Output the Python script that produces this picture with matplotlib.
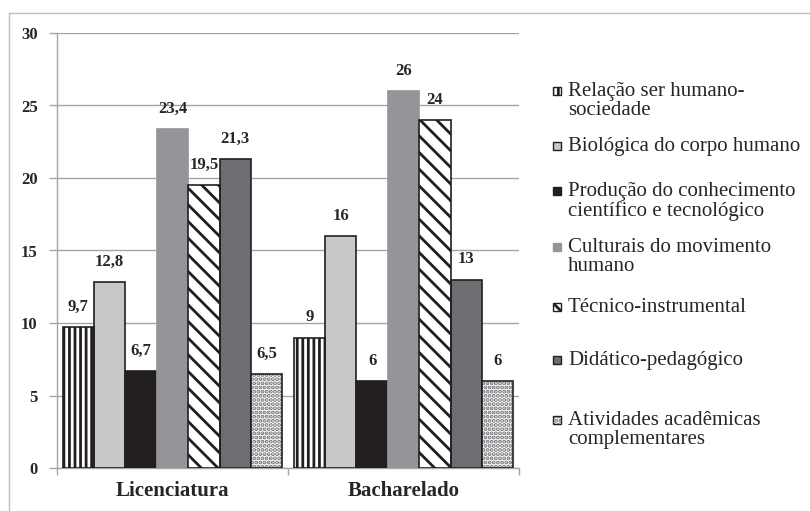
import matplotlib
matplotlib.use("Agg")
import matplotlib.pyplot as plt
from matplotlib.patches import Rectangle
from matplotlib.lines import Line2D
import numpy as np

categories = ["Licenciatura", "Bacharelado"]
series_names = [
    "Relação ser humano-\nsociedade",
    "Biológica do corpo humano",
    "Produção do conhecimento\ncientífico e tecnológico",
    "Culturais do movimento\nhumano",
    "Técnico-instrumental",
    "Didático-pedagógico",
    "Atividades acadêmicas\ncomplementares",
]
licenciatura = [9.7, 12.8, 6.7, 23.4, 19.5, 21.3, 6.5]
bacharelado = [9, 16, 6, 26, 24, 13, 6]
value_labels_lic = ["9,7", "12,8", "6,7", "23,4", "19,5", "21,3", "6,5"]
value_labels_bac = ["9", "16", "6", "26", "24", "13", "6"]
yticks = [0, 5, 10, 15, 20, 25, 30]

styles = [
    dict(facecolor="white", edgecolor="#231f20", hatch="|||", hatchcolor="#231f20"),
    dict(facecolor="#c7c8ca", edgecolor="#231f20", hatch=None, hatchcolor=None),
    dict(facecolor="#231f20", edgecolor="#231f20", hatch=None, hatchcolor=None),
    dict(facecolor="#939598", edgecolor="#939598", hatch=None, hatchcolor=None),
    dict(facecolor="white", edgecolor="#231f20", hatch="\\\\", hatchcolor="#231f20"),
    dict(facecolor="#6d6e71", edgecolor="#231f20", hatch=None, hatchcolor=None),
    dict(facecolor="white", edgecolor="#231f20", hatch="....", hatchcolor="#6d6e71"),
]

plt.rcParams["hatch.linewidth"] = 2.0
serif = ["Liberation Serif", "DejaVu Serif"]

W, H = 810, 511
fig = plt.figure(figsize=(W / 100, H / 100), dpi=100)
ax = fig.add_axes([57 / W, (H - 468) / H, 462 / W, 435 / H])

x = np.arange(len(categories))
bw = 0.136
n = len(series_names)
for i in range(n):
    vals = [licenciatura[i], bacharelado[i]]
    labs = [value_labels_lic[i], value_labels_bac[i]]
    off = (i - (n - 1) / 2) * bw
    st = styles[i]
    if st["hatch"] is not None:
        # hatch layer (hatch takes the edge colour), then outline layer
        ax.bar(x + off, vals, bw, facecolor=st["facecolor"], edgecolor=st["hatchcolor"],
               hatch=st["hatch"], linewidth=0, zorder=3)
        bars = ax.bar(x + off, vals, bw, facecolor="none", edgecolor=st["edgecolor"],
                      linewidth=1.2, zorder=3.5)
    else:
        bars = ax.bar(x + off, vals, bw, facecolor=st["facecolor"], edgecolor=st["edgecolor"],
                      linewidth=1.2, zorder=3)
    for b, lab in zip(bars, labs):
        ax.annotate(lab, (b.get_x() + b.get_width() / 2, b.get_height()),
                    xytext=(0, 14.5), textcoords="offset points", ha="center", va="center",
                    fontsize=12, fontweight="bold", family=serif, color="#262626", zorder=4)

ax.set_xlim(-0.5, 1.5)
ax.set_ylim(0, 30)
ax.set_yticks(yticks)
ax.set_yticklabels([str(t) for t in yticks], fontsize=12, fontweight="bold", family=serif, color="#262626")
ax.yaxis.grid(True, color="#a6a6a6", linewidth=1.0, zorder=0)
ax.set_axisbelow(True)
ax.set_xticks([-0.5, 0.5, 1.5])
ax.set_xticklabels([])
ax.set_xticks(x, minor=True)
ax.set_xticklabels(categories, minor=True, fontsize=15, fontweight="bold", family=serif, color="#262626")
ax.tick_params(axis="x", which="major", direction="out", length=5, color="#a6a6a6", width=1)
ax.tick_params(axis="x", which="minor", length=0, pad=9)
ax.tick_params(axis="y", direction="out", length=6, color="#a6a6a6", width=1, pad=8)
for s in ["top", "right"]:
    ax.spines[s].set_visible(False)
for s in ["left", "bottom"]:
    ax.spines[s].set_color("#a6a6a6")
    ax.spines[s].set_linewidth(1.0)

# figure frame (left and top edges visible)
fig.add_artist(Line2D([9 / W, 9 / W], [0, (H - 13) / H], transform=fig.transFigure, color="#bfbfbf", lw=1))
fig.add_artist(Line2D([9 / W, 1], [(H - 13) / H, (H - 13) / H], transform=fig.transFigure, color="#bfbfbf", lw=1))

# legend (manual)
leg_y = [91, 146, 191, 247, 307, 360, 420]
for i in range(n):
    yc = leg_y[i]
    st = styles[i]
    if st["hatch"] is not None:
        fig.add_artist(Rectangle((553 / W, (H - yc - 4) / H), 8 / W, 8 / H, transform=fig.transFigure,
                                 facecolor=st["facecolor"], edgecolor=st["hatchcolor"],
                                 hatch=st["hatch"], linewidth=0))
        fig.add_artist(Rectangle((553 / W, (H - yc - 4) / H), 8 / W, 8 / H, transform=fig.transFigure,
                                 facecolor="none", edgecolor="#231f20", linewidth=1.0))
    else:
        fig.add_artist(Rectangle((553 / W, (H - yc - 4) / H), 8 / W, 8 / H, transform=fig.transFigure,
                                 facecolor=st["facecolor"],
                                 edgecolor="#231f20" if i != 3 else st["edgecolor"], linewidth=1.0))
    fig.text(568 / W, (H - yc + 9) / H, series_names[i], ha="left", va="top", fontsize=15,
             family=serif, color="#262626", linespacing=1.0)

fig.savefig("out.png", dpi=100)
